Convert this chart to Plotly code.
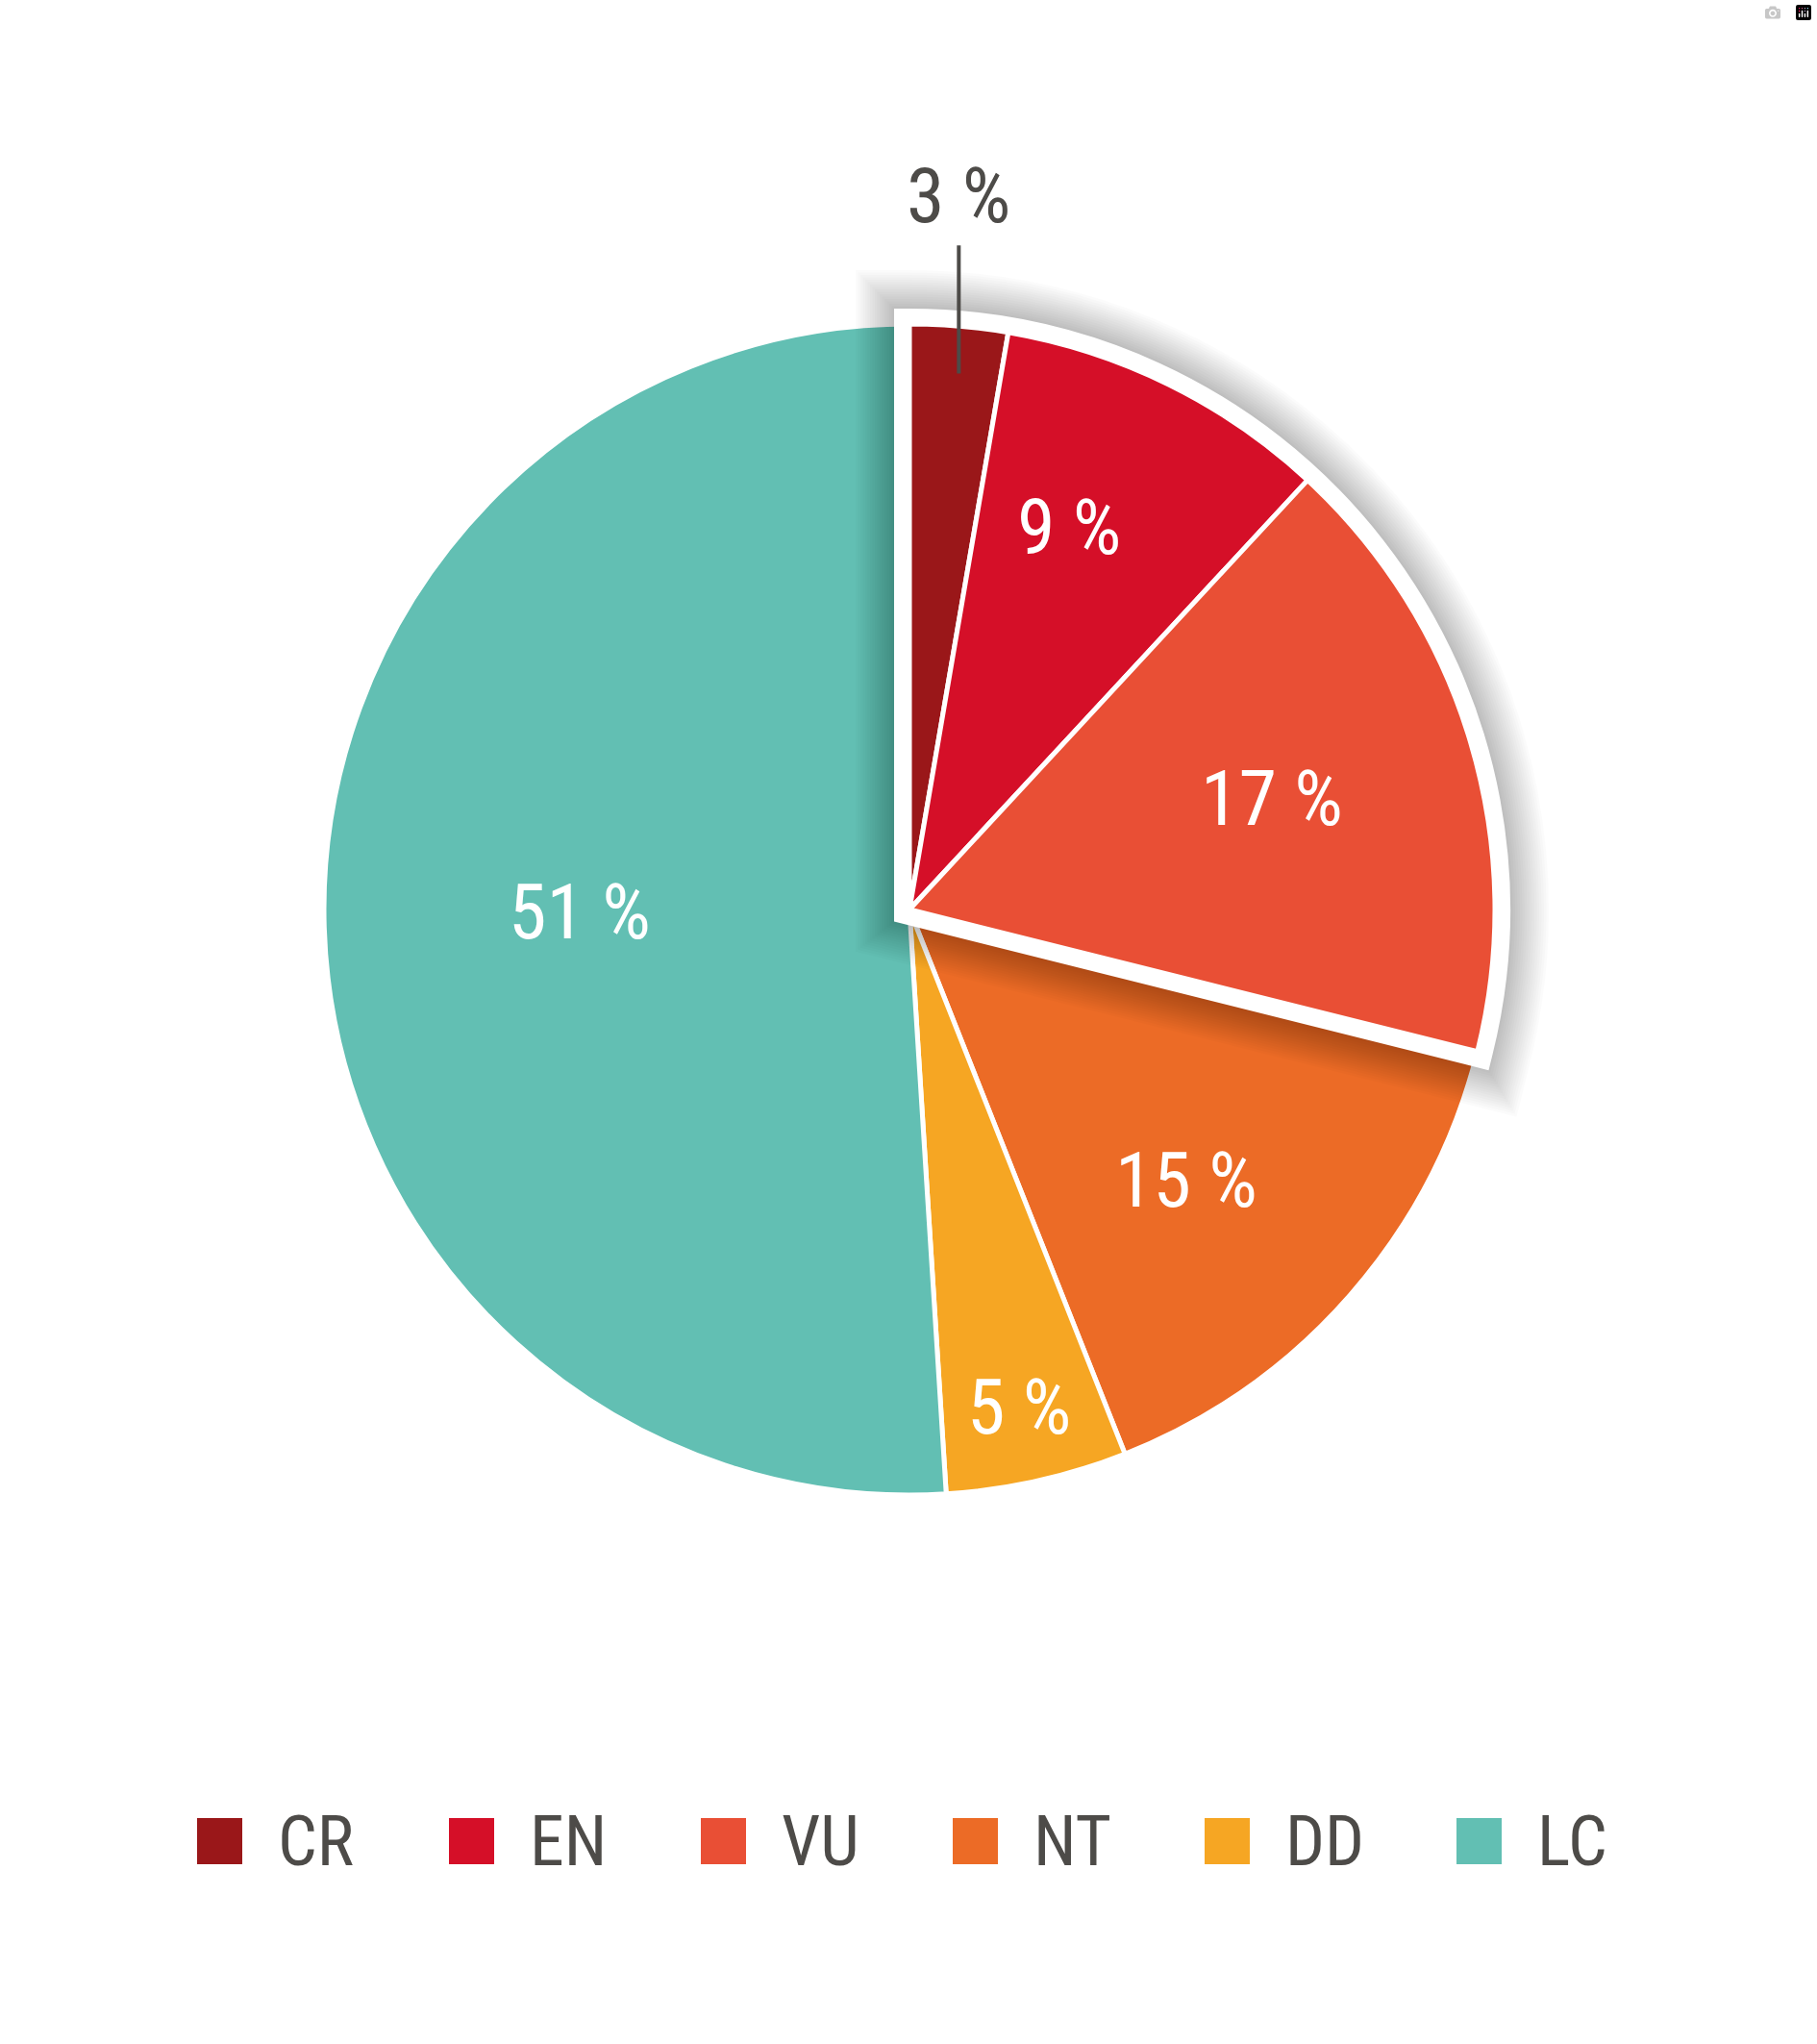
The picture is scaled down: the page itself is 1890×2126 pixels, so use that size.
import math
import plotly.graph_objects as go

# ---- data ----
categories = ["CR", "EN", "VU", "NT", "DD", "LC"]
values = [2.7, 9.2, 17.0, 15.1, 5.0, 51.0]
pct_labels = ["3 %", "9 %", "17 %", "15 %", "5 %", "51 %"]
colors = ["#9A1719", "#D50F28", "#E94F35", "#EC6B26", "#F6A623", "#62BFB3"]
threatened = ["CR", "EN", "VU"]

# ---- layout constants ----
W, H = 1890, 2126
CX, CY, R = 946, 946, 609      # domain radius (plotly draws ~606)
RD = 606                        # drawn radius for label placement
FONT = "Roboto Condensed, Liberation Sans Narrow, Arial Narrow, DejaVu Sans Condensed, Roboto, sans-serif"
TEXT = "#4D4B48"
label_r = [None, 0.71, 0.65, 0.665, 0.875, 0.566]
label_dtheta = [0, -3.6, -0.4, 3.1, 0.2, 1.3]


def px(x):
    return x / W


def py(y):
    return 1 - y / H


domain = dict(x=[px(CX - R), px(CX + R)], y=[py(CY + R), py(CY - R)])
base = dict(sort=False, direction="clockwise", rotation=0, domain=domain,
            textinfo="none", hoverinfo="skip", showlegend=False)

fig = go.Figure()
# full pie
fig.add_trace(go.Pie(labels=categories, values=values,
                     marker=dict(colors=colors, line=dict(color="white", width=5)), **base))

# threatened group: soft shadow + white border
grp = sum(v for c, v in zip(categories, values) if c in threatened)
rest = sum(values) - grp
for k in range(16, 0, -1):
    fig.add_trace(go.Pie(labels=["grp", "rest"], values=[grp, rest],
                         marker=dict(colors=["rgba(0,0,0,0)", "rgba(0,0,0,0)"],
                                     line=dict(color=["rgba(0,0,0,0.014)", "rgba(0,0,0,0)"],
                                               width=[32 + 5 * k, 0])), **base))
fig.add_trace(go.Pie(labels=["grp", "rest"], values=[grp, rest],
                     marker=dict(colors=["white", "rgba(0,0,0,0)"],
                                 line=dict(color=["white", "rgba(0,0,0,0)"], width=[32, 0])), **base))
# group slices on top
gcolors = [col if c in threatened else "rgba(0,0,0,0)" for c, col in zip(categories, colors)]
glines = ["white" if c in threatened else "rgba(0,0,0,0)" for c in categories]
fig.add_trace(go.Pie(labels=categories, values=values,
                     marker=dict(colors=gcolors, line=dict(color=glines, width=5)), **base))

# ---- labels ----
total = sum(values)
annotations = []
shapes = []
cum = 0
for i, (v, lab) in enumerate(zip(values, pct_labels)):
    mid = (cum + v / 2) / total * 2 * math.pi + math.radians(label_dtheta[i])
    cum += v
    if label_r[i] is None:
        x = CX + RD * math.sin(mid)
        shapes.append(dict(type="line", xref="paper", yref="paper",
                           x0=px(x), x1=px(x), y0=py(CY - 0.92 * RD), y1=py(CY - 1.14 * RD),
                           line=dict(color=TEXT, width=4)))
        annotations.append(dict(x=px(x), y=py(CY - 1.225 * RD), xref="paper", yref="paper",
                                text=lab, showarrow=False, xanchor="center", yanchor="middle",
                                font=dict(family=FONT, size=80, color=TEXT)))
    else:
        f = label_r[i]
        x = CX + f * RD * math.sin(mid)
        y = CY - f * RD * math.cos(mid)
        annotations.append(dict(x=px(x), y=py(y), xref="paper", yref="paper",
                                text=lab, showarrow=False, xanchor="center", yanchor="middle",
                                font=dict(family=FONT, size=80, color="white")))

# ---- legend ----
for i, (c, col) in enumerate(zip(categories, colors)):
    x0 = 205 + 262 * i
    shapes.append(dict(type="rect", xref="paper", yref="paper",
                       x0=px(x0), x1=px(x0 + 47), y0=py(1939), y1=py(1891),
                       fillcolor=col, line=dict(width=0)))
    annotations.append(dict(x=px(x0 + 82), y=py(1915), xref="paper", yref="paper",
                            text=c, showarrow=False, xanchor="left", yanchor="middle",
                            font=dict(family=FONT, size=72, color=TEXT)))

fig.update_layout(width=W, height=H, margin=dict(l=0, r=0, t=0, b=0),
                  paper_bgcolor="white", plot_bgcolor="white",
                  annotations=annotations, shapes=shapes, showlegend=False)
fig.write_html(
    "out.html",
    post_script=("document.body.style.margin='0';"
                 "document.querySelectorAll('.slice path.surface').forEach(function(p){"
                 "p.style.strokeLinejoin='miter';});"),
)
